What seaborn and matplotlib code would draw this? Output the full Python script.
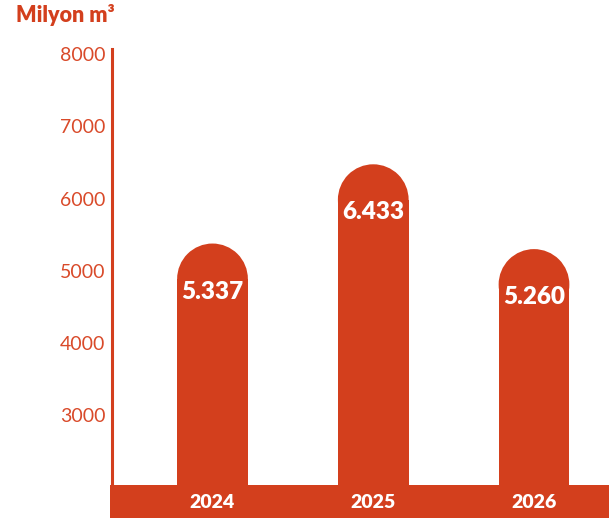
import matplotlib
matplotlib.use("Agg")
import matplotlib.pyplot as plt
import seaborn as sns
import pandas as pd
from matplotlib.patches import Ellipse
from matplotlib import font_manager

years = ["2024", "2025", "2026"]
values = [5337, 6433, 5260]
value_labels = ["5.337", "6.433", "5.260"]
yticks = [3000, 4000, 5000, 6000, 7000, 8000]
unit_title = "Milyon m³"

RED = "#D33F1D"
W, H = 609, 518

sns.set_theme(style="white")
plt.rcParams["font.family"] = ["Lato", "DejaVu Sans"]

# find a light face if one is installed
light_family, light_weight = "Lato", "normal"
for f in font_manager.fontManager.ttflist:
    if f.weight in (200, 300, "light", "extra light") and f.name in ("Lato", "Open Sans", "Roboto", "Inter", "Noto Sans"):
        light_family, light_weight = f.name, f.weight
        if f.name == "Lato":
            break

fig = plt.figure(figsize=(W / 100, H / 100), dpi=100)
ax_left, ax_top = 110, 49
ax = fig.add_axes([ax_left / W, 0, (W - ax_left) / W, (H - ax_top) / H])

df = pd.DataFrame({"year": years, "value": values})
bar_w = 0.44
sns.barplot(data=df, x="year", y="value", color=RED, saturation=1,
            width=bar_w, ax=ax, linewidth=0)

px_per_unit = 72.3 / 1000.0
def ypx_to_val(p):
    return 8000 - (p - 54) / px_per_unit

ax.set_ylim(ypx_to_val(H), ypx_to_val(ax_top))
x_px_per_unit = 160.75
x0_px = 212.5
ax.set_xlim(-(x0_px - ax_left) / x_px_per_unit, 2 + (W - 534) / x_px_per_unit)

r_px = bar_w * x_px_per_unit / 2
ry = r_px / px_per_unit
top_shift = 3 / px_per_unit
for patch, v in zip(ax.patches, values):
    x = patch.get_x() + patch.get_width() / 2
    patch.set_height(v + top_shift - ry)
    ax.add_patch(Ellipse((x, v + top_shift - ry), width=bar_w, height=2 * ry,
                         facecolor=RED, edgecolor="none", zorder=patch.get_zorder()))

for i, (v, lab) in enumerate(zip(values, value_labels)):
    ax.text(i, v - 45 / px_per_unit, lab, ha="center", va="center",
            color="white", fontsize=17.5, fontweight="heavy", zorder=5)

band_top = ypx_to_val(485)
ax.axhspan(ax.get_ylim()[0], band_top, color=RED, zorder=4, lw=0)
for i, yr in enumerate(years):
    ax.text(i, ypx_to_val(502.5), yr, ha="center", va="center",
            color="white", fontsize=14, fontweight="heavy", zorder=6)

ax.set_yticks(yticks)
ax.set_yticklabels([str(t) for t in yticks])
ax.tick_params(axis="y", length=0, pad=5, labelcolor="#D94A2A", labelsize=14)
for lbl in ax.get_yticklabels():
    lbl.set_fontfamily(light_family)
    lbl.set_fontweight(light_weight)
ax.set_xticks([])
ax.set_xlabel("")
ax.set_ylabel("")
for s in ["top", "right", "bottom"]:
    ax.spines[s].set_visible(False)
ax.spines["left"].set_color(RED)
ax.spines["left"].set_linewidth(2.2)
ax.spines["left"].set_position(("outward", -1.5))

fig.text(16 / W, 1 - 22 / H, unit_title, ha="left", va="baseline",
         color=RED, fontsize=15.5, fontweight="heavy")

fig.savefig("out.png", dpi=100)
